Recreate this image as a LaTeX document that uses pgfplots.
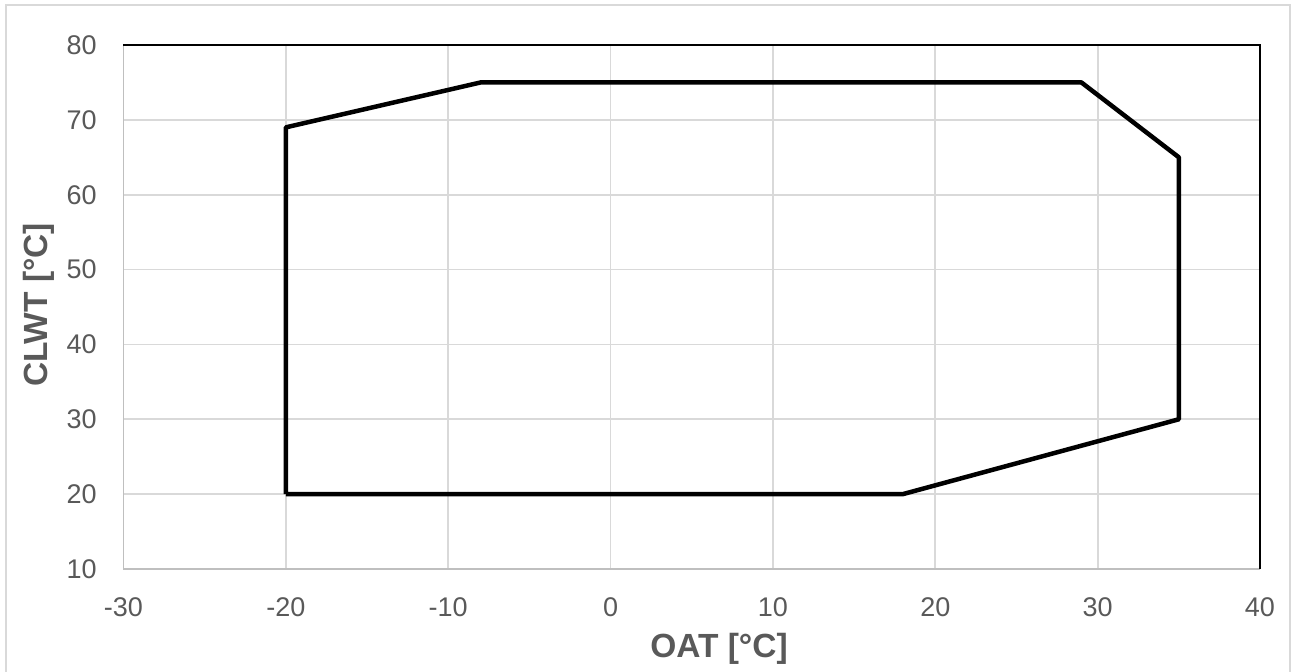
\documentclass[border=0pt]{standalone}
\usepackage{pgfplots}
\pgfplotsset{compat=1.18}
\usepackage{fontspec}
\setmainfont{Liberation Sans}
\definecolor{gridgray}{HTML}{D9D9D9}
\definecolor{axisgray}{HTML}{BFBFBF}
\definecolor{textgray}{HTML}{595959}

% operating envelope: outdoor air temperature vs. leaving water temperature
\pgfplotstableread{
x y
-20 20
-20 69
-8 75
29 75
35 65
35 30
18 20
-20 20
}\envelope

\begin{document}
\begin{tikzpicture}
\begin{axis}[
  at={(0,0)}, anchor=south west,
  scale only axis,
  width=568.25pt, height=262pt,
  xmin=-30, xmax=40, ymin=10, ymax=80,
  xtick={-30,-20,...,40},
  ytick={10,20,...,80},
  grid=major,
  major grid style={draw=gridgray, line width=0.9pt},
  major tick length=0pt,
  axis line style={draw=none},
  /pgf/number format/assume math mode=true,
  ticklabel style={font=\fontsize{13.5}{16}\selectfont, text=textgray},
  xticklabel style={inner sep=0pt, anchor=north, yshift=-14pt},
  yticklabel style={inner sep=0pt, anchor=east, xshift=-13.25pt},
  xlabel={OAT [°C]},
  ylabel={CLWT [°C]},
  xlabel style={font=\fontsize{16.75}{19}\selectfont\bfseries, text=textgray,
    at={(axis description cs:0.524,-0.168)}, anchor=base},
  ylabel style={font=\fontsize{16.75}{19}\selectfont\bfseries, text=textgray,
    at={(axis description cs:-0.0673,0.504)}, anchor=base, rotate=0},
  clip=false,
]
  % frame: light bottom/left, black top/right
  \draw[axisgray, line width=0.9pt] (rel axis cs:0,1) -- (rel axis cs:0,0) -- (rel axis cs:1,0);
  \draw[black, line width=0.6pt] (rel axis cs:0,1) -- (rel axis cs:1,1) -- (rel axis cs:1,0);
  \addplot[black, line width=2.25pt, line join=round, mark=none] table[x=x, y=y] {\envelope};
\end{axis}
% page extent and outer chart border
\useasboundingbox (-61.75pt,-51pt) rectangle (584.25pt,284.5pt);
\draw[gridgray, line width=0.75pt] (-58.75pt,-60pt) -- (-58.75pt,282pt) -- (583.25pt,282pt) -- (583.25pt,-60pt);
\end{tikzpicture}
\end{document}
